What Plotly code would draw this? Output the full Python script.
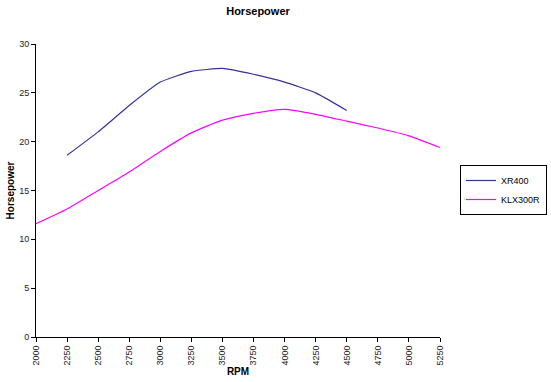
import plotly.graph_objects as go

rpm_xr = [2250, 2500, 2750, 3000, 3250, 3500, 3750, 4000, 4250, 4500]
hp_xr = [18.6, 21.0, 23.7, 26.1, 27.2, 27.5, 26.9, 26.1, 25.0, 23.2]

rpm_klx = [2000, 2250, 2500, 2750, 3000, 3250, 3500, 3750, 4000, 4250, 4500, 4750, 5000, 5250]
hp_klx = [11.6, 13.1, 15.0, 16.9, 19.0, 20.9, 22.2, 22.9, 23.3, 22.8, 22.1, 21.4, 20.6, 19.4]

x_ticks = list(range(2000, 5251, 250))
y_ticks = [0, 5, 10, 15, 20, 25, 30]

font = "Liberation Sans, Arial, sans-serif"

fig = go.Figure()
fig.add_trace(go.Scatter(x=rpm_xr, y=hp_xr, mode="lines", name="XR400",
                         line=dict(color="#333399", width=1.2, shape="spline", smoothing=0.4)))
fig.add_trace(go.Scatter(x=rpm_klx, y=hp_klx, mode="lines", name="KLX300R",
                         line=dict(color="#FF00FF", width=1.2, shape="spline", smoothing=0.6)))

fig.update_layout(
    width=551, height=382,
    margin=dict(l=36, r=111, t=44, b=45, autoexpand=False),
    paper_bgcolor="white", plot_bgcolor="white",
    font=dict(family=font, size=9, color="#222222"),
    title=dict(text="<b>Horsepower</b>", x=258/551, xanchor="center", y=1-11/382, yanchor="middle",
               font=dict(size=11, color="black", family=font)),
    showlegend=True,
    legend=dict(x=(547-36)/404, y=(337-190)/293, xanchor="right", yanchor="middle",
                bordercolor="black", borderwidth=1, bgcolor="white",
                font=dict(size=9, color="black", family=font),
                tracegroupgap=0, itemwidth=30),
)
fig.update_xaxes(range=[2000, 5250], tickvals=x_ticks, ticktext=[str(v) for v in x_ticks],
                 tickangle=-90, showgrid=False, zeroline=False,
                 showline=True, linecolor="black", linewidth=1,
                 ticks="outside", ticklen=4, tickcolor="black",
                 title=dict(text="<b>RPM</b>", standoff=3, font=dict(size=10, color="black")))
fig.update_yaxes(range=[0, 30], tickvals=y_ticks, showgrid=False, zeroline=False,
                 showline=True, linecolor="black", linewidth=1,
                 ticks="outside", ticklen=4, tickcolor="black",
                 title=dict(text="<b>Horsepower</b>", standoff=2, font=dict(size=10, color="black")))

fig.write_html("out.html")
